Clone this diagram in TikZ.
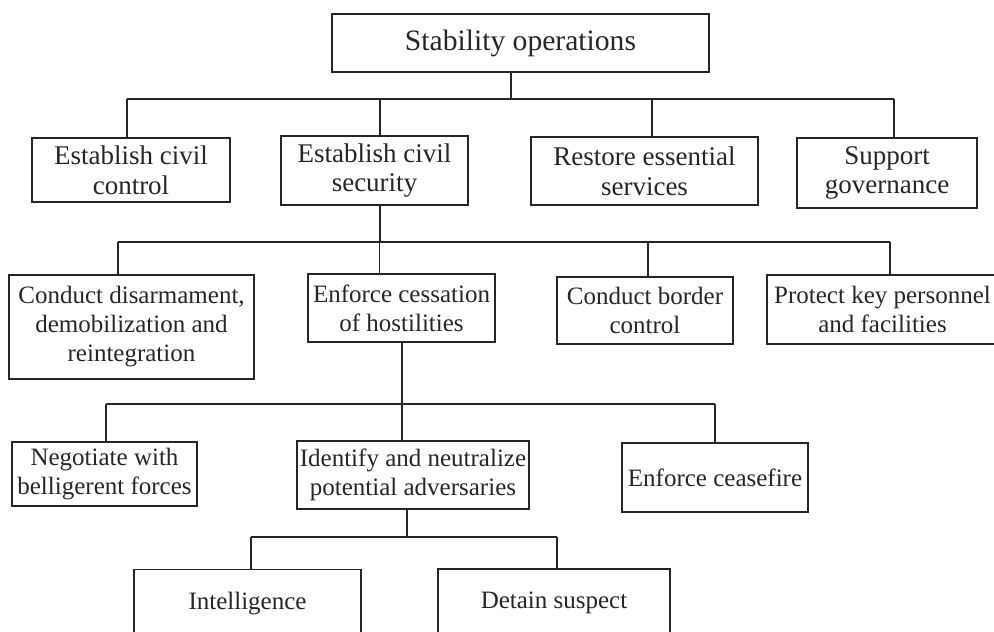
\documentclass[tikz,border=0pt]{standalone}
\usepackage{fontspec}
\setmainfont{Liberation Serif}
\definecolor{ink}{gray}{0.15}
\tikzset{
  box/.style 2 args={draw=ink, text=ink, line width=0.6pt, align=center, inner sep=0pt,
    minimum width=#1*0.5pt, minimum height=#2*0.5pt,
    font=\fontsize{12.5}{14.5}\selectfont},
  big/.style={font=\fontsize{13.5}{14.8}\selectfont},
  link/.style={draw=ink, line width=0.6pt},
}
\begin{document}
\begin{tikzpicture}[x=0.5pt, y=-0.5pt]
\useasboundingbox (0,0) rectangle (994,631);
\clip (0,0) rectangle (994,631);

% boxes
\node[box={377}{58}, font=\fontsize{14.8}{17}\selectfont] (stab) at (520.5,43) {Stability operations};

\node[box={198}{64}, big] (ctrl) at (131,170)   {Establish civil\\control};
\node[box={187}{69}, big] (secu) at (374.5,170.5) {Establish civil\\security};
\node[box={227}{68}, big] (serv) at (644.5,171) {Restore essential\\services};
\node[box={180}{70}, big] (gov)  at (887,173)   {Support\\governance};

\node[box={245}{104}] (ddr) at (131.5,327) {Conduct disarmament,\\demobilization and\\reintegration};
\node[box={187}{68}]  (cess) at (401.5,308) {Enforce cessation\\of hostilities};
\node[box={176}{67}]  (bord) at (645,310.5) {Conduct border\\control};
\node[box={231}{69}]  (prot) at (882.5,309.5) {Protect key personnel\\and facilities};

\node[box={185}{64}] (nego) at (104.5,474) {Negotiate with\\belligerent forces};
\node[box={232}{68}] (iden) at (413,475)   {Identify and neutralize\\potential adversaries};
\node[box={186}{69}] (fire) at (715,477.5) {Enforce ceasefire};

\node[box={227}{68}] (intel) at (247.5,603.5) {Intelligence};
\node[box={232}{68}] (deta)  at (554,603)   {Detain suspect};

% buses
\coordinate (bus0) at (0,99);
\coordinate (bus1) at (0,242);
\coordinate (bus2) at (0,404);
\coordinate (bus3) at (0,537);

% stability operations -> level 1
\draw[link] ([xshift=-4.75pt]stab.south) -- ([xshift=-4.75pt]stab.south |- bus0);
\draw[link] ([xshift=-2pt]ctrl.north |- bus0) -- ([xshift=3.5pt]gov.north |- bus0);
\foreach \n/\dx in {ctrl/-2pt, secu/2.75pt, serv/3.75pt, gov/3.5pt}
  \draw[link] ([xshift=\dx]\n.north) -- ([xshift=\dx]\n.north |- bus0);

% civil security -> level 2
\draw[link] ([xshift=2.75pt]secu.south) -- ([xshift=2.75pt]secu.south |- bus1);
\draw[link] ([xshift=-6.75pt]ddr.north |- bus1) -- ([xshift=3.75pt]prot.north |- bus1);
\foreach \n/\dx in {ddr/-6.75pt, cess/-11pt, bord/1.5pt, prot/3.75pt}
  \draw[link] ([xshift=\dx]\n.north) -- ([xshift=\dx]\n.north |- bus1);

% cessation of hostilities -> level 3
\draw[link] ([xshift=0.25pt]cess.south) -- ([xshift=0.25pt]cess.south |- bus2);
\draw[link] ([xshift=0.75pt]nego.north |- bus2) -- (fire.north |- bus2);
\foreach \n/\dx in {nego/0.75pt, iden/-5.5pt, fire/0pt}
  \draw[link] ([xshift=\dx]\n.north) -- ([xshift=\dx]\n.north |- bus2);

% identify and neutralize -> level 4
\draw[link] ([xshift=-3pt]iden.south) -- ([xshift=-3pt]iden.south |- bus3);
\draw[link] ([xshift=1.75pt]intel.north |- bus3) -- ([xshift=1.5pt]deta.north |- bus3);
\foreach \n/\dx in {intel/1.75pt, deta/1.5pt}
  \draw[link] ([xshift=\dx]\n.north) -- ([xshift=\dx]\n.north |- bus3);
\end{tikzpicture}
\end{document}
